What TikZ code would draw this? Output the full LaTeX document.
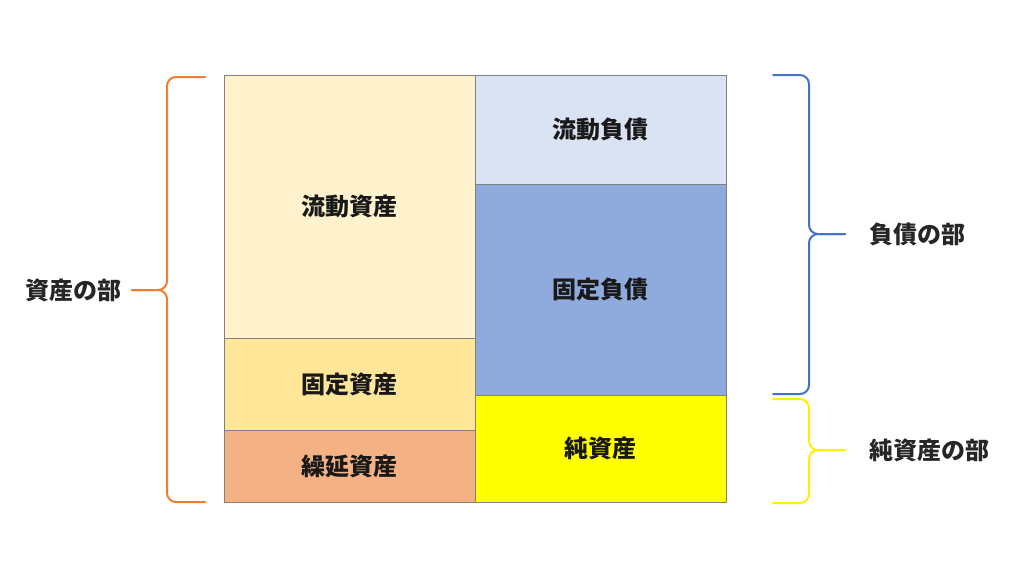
\documentclass[tikz,border=0pt]{standalone}
\usepackage{fontspec}
\setmainfont{Noto Sans CJK JP}
\usetikzlibrary{positioning}
\definecolor{curasset}{HTML}{FFF2CC}
\definecolor{fixasset}{HTML}{FFE699}
\definecolor{defasset}{HTML}{F4B183}
\definecolor{curliab}{HTML}{DAE3F3}
\definecolor{fixliab}{HTML}{8FAADC}
\definecolor{netasset}{HTML}{FFFF00}
\definecolor{braceorange}{HTML}{ED7D31}
\definecolor{braceblue}{HTML}{4472C4}
\definecolor{braceyellow}{HTML}{FFF000}
\begin{document}
\begin{tikzpicture}[
        x=1pt, y=-1pt,
        block/.style={rectangle, draw=black!50, line width=0.8pt, minimum width=251pt, inner sep=0pt, outer sep=0pt, text=black!90, font=\fontsize{24}{28}\selectfont\bfseries},
        lbl/.style={inner sep=0pt, text=black!85, font=\fontsize{24}{28}\selectfont\bfseries},
        curly/.style={line width=2pt, rounded corners=9pt, line cap=round},
        node distance=0pt
    ]
    \useasboundingbox (0,0) rectangle (1024,576);

    % assets side
    \node[block, fill=curasset, minimum height=263pt, anchor=north west] (ca) at (224,75) {流動資産};
    \node[block, fill=fixasset, minimum height=92pt, below=of ca] (fa) {固定資産};
    \node[block, fill=defasset, minimum height=72pt, below=of fa] (da) {繰延資産};

    % liabilities and net assets side
    \node[block, fill=curliab, minimum height=109pt, anchor=north west] (cl) at (ca.north east) {流動負債};
    \node[block, fill=fixliab, minimum height=211pt, below=of cl] (fl) {固定負債};
    \node[block, fill=netasset, minimum height=107pt, below=of fl] (na) {純資産};

    % braces
    \coordinate (lt) at (132,290);
    \coordinate (bt) at (845,234);
    \coordinate (yt) at (845,450);
    \draw[curly, braceorange] (205,77) -- (167,77) -- (167,290) -- (lt);
    \draw[curly, braceorange] (205,502) -- (167,502) -- (167,290) -- (lt);
    \draw[curly, braceblue] (773,75) -- (809,75) -- (809,234) -- (bt);
    \draw[curly, braceblue] (773,394) -- (809,394) -- (809,234) -- (bt);
    \draw[curly, braceyellow] (773,399) -- (809,399) -- (809,450) -- (yt);
    \draw[curly, braceyellow] (773,503) -- (809,503) -- (809,450) -- (yt);

    \node[lbl, left=10pt of lt] (assets) {資産の部};
    \node[lbl, right=24pt of bt] (liabs) {負債の部};
    \node[lbl, right=24pt of yt] (nets) {純資産の部};

\end{tikzpicture}
\end{document}
